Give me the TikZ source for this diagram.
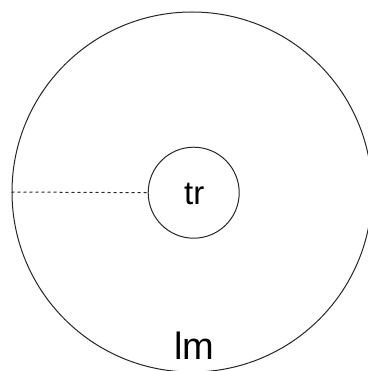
\documentclass[tikz,border=0pt]{standalone}
\usepackage{fontspec}
\setmainfont{Liberation Sans}
\begin{document}
\begin{tikzpicture}[x=1pt,y=-1pt,
  ring/.style={draw=black!85,line width=1pt,circle,inner sep=0pt},
  lbl/.style={inner sep=0pt,anchor=base}]
\useasboundingbox (0,0) rectangle (367,371);
\node[ring,minimum size=360pt] (lm) at (192,192) {};
\node[ring,minimum size=91pt] (tr) at (193.7,192.7) {};
\node[lbl,font=\fontsize{33}{33}\selectfont] (trt) at (194.2,204.3) {tr};
\node[lbl,font=\fontsize{38}{38}\selectfont] (lmt) at (194.5,359.3) {lm};
\draw[black!85,line width=1pt,dash pattern=on 3pt off 3pt] (lm.west) -- (tr.west);
\end{tikzpicture}
\end{document}
